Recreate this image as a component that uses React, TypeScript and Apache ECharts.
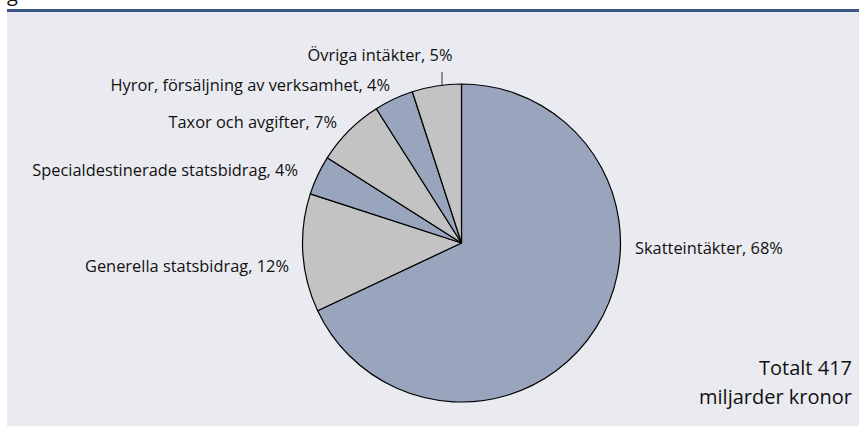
import React, { useEffect, useRef } from "react";
import * as echarts from "echarts";

const categories = [
  "Skatteintäkter",
  "Generella statsbidrag",
  "Specialdestinerade statsbidrag",
  "Taxor och avgifter",
  "Hyror, försäljning av verksamhet",
  "Övriga intäkter",
];
const shares = [68, 12, 4, 7, 4, 5];
const totalLines = ["Totalt 417", "miljarder kronor"];

const BLUE = "#99a4bd";
const GRAY = "#c3c3c3";
const sliceColors = [BLUE, GRAY, BLUE, GRAY, BLUE, GRAY];

// label placement (x, y, align) per slice
const labelPos: [number, number, string][] = [
  [635, 247, "left"],
  [289, 265, "right"],
  [298, 169, "right"],
  [337, 121, "right"],
  [390, 84, "right"],
  [380, 54, "center"],
];

export default function App() {
  const ref = useRef<HTMLDivElement>(null);
  useEffect(() => {
    document.body.style.margin = "0";
    const chart = echarts.init(ref.current!, null, { renderer: "svg" });
    const font = "'Open Sans', 'Noto Sans', sans-serif";
    chart.setOption({
      animation: false,
      backgroundColor: "#ffffff",
      graphic: [
        { type: "rect", shape: { x: 7, y: 12, width: 852, height: 414 }, style: { fill: "#eaebf0" }, z: -10 },
        { type: "rect", shape: { x: 7, y: 9, width: 852, height: 3 }, style: { fill: "#3d5585" }, z: -10 },
        {
          type: "text",
          x: 7,
          y: -17,
          style: { text: "g", font: `20px ${font}`, fill: "#111" },
        },
        {
          type: "text",
          x: 852,
          y: 382,
          style: {
            text: totalLines.join("\n"),
            font: `20px ${font}`,
            fill: "#111",
            align: "right",
            verticalAlign: "middle",
            lineHeight: 29,
          },
        },
      ],
      series: [
        {
          type: "pie",
          center: [461.5, 243],
          radius: 159,
          startAngle: 90,
          clockwise: true,
          avoidLabelOverlap: false,
          itemStyle: { borderColor: "#000", borderWidth: 1.2 },
          label: {
            show: true,
            position: "outside",
            formatter: (p: any) => `${p.name}, ${p.value}%`,
            fontFamily: font,
            fontSize: 16.4,
            color: "#111",
          },
          labelLine: { show: false },
          labelLayout: (p: any) => {
            const [x, y, align] = labelPos[p.dataIndex];
            const res: any = { x, y, align, verticalAlign: "middle" };
            if (p.dataIndex === 5) {
              res.labelLinePoints = [
                [442, 96],
                [442, 84],
                [442, 72],
              ];
            }
            return res;
          },
          data: categories.map((name, i) => ({
            name,
            value: shares[i],
            itemStyle: { color: sliceColors[i] },
            ...(i === 5
              ? { labelLine: { show: true, lineStyle: { color: "#333", width: 1 } } }
              : {}),
          })),
        },
      ],
    });
    return () => chart.dispose();
  }, []);
  return <div ref={ref} style={{ width: 859, height: 426 }} />;
}
